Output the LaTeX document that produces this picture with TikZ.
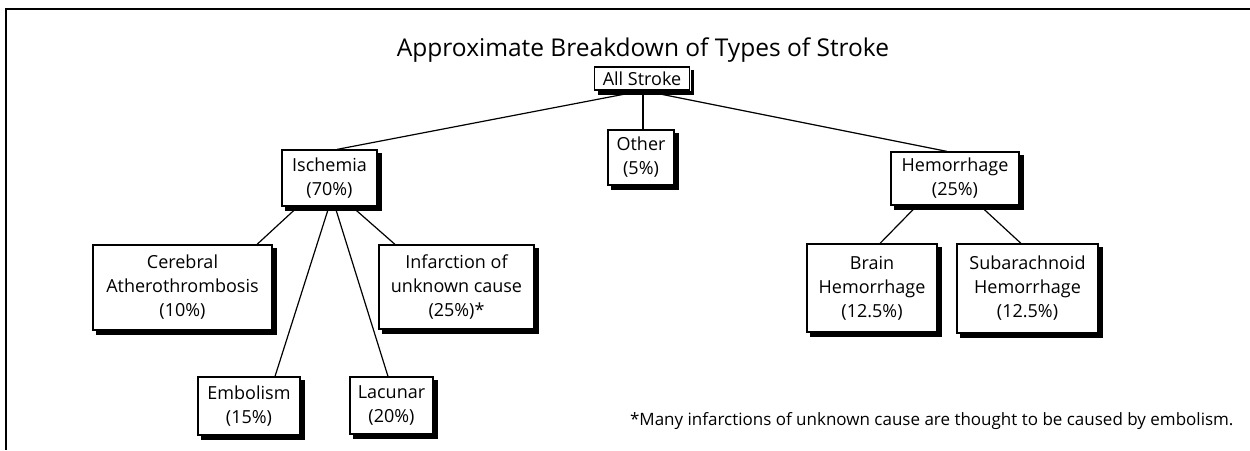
\documentclass[tikz,border=0pt]{standalone}
\usepackage{fontspec}
\setmainfont{Open Sans}
\usetikzlibrary{calc}
\begin{document}
\begin{tikzpicture}[x=1pt,y=-1pt,
  box/.style={draw=black, line width=1.2pt, fill=white, inner sep=0pt, align=center,
    font=\fontsize{18}{24}\selectfont},
  shade/.style={fill=black},
  link/.style={line width=1.2pt}]
\useasboundingbox (0,0) rectangle (1250,450);
\draw[line width=1.2pt] (1250,9) -- (6,9) -- (6,450);
\node[anchor=base, font=\fontsize{24.5}{28}\selectfont] (title) at (643,56) {Approximate Breakdown of Types of Stroke};
\node[box, minimum width=95pt, minimum height=23pt] (all) at (642,78.5) {All Stroke};
\node[box, minimum width=95pt, minimum height=56pt] (isch) at (329.5,178) {Ischemia\\(70\%)};
\node[box, minimum width=66pt, minimum height=55pt] (other) at (641,157.5) {Other\\(5\%)};
\node[box, minimum width=128pt, minimum height=53pt] (hem) at (955,178.5) {Hemorrhage\\(25\%)};
\node[box, minimum width=179pt, minimum height=85pt] (cer) at (182.5,287.5) {Cerebral\\Atherothrombosis\\(10\%)};
\node[box, minimum width=155pt, minimum height=84pt] (inf) at (456.5,287) {Infarction of\\unknown cause\\(25\%)*};
\node[box, minimum width=102pt, minimum height=58pt] (emb) at (249,406) {Embolism\\(15\%)};
\node[box, minimum width=83pt, minimum height=57pt] (lac) at (391.5,405.5) {Lacunar\\(20\%)};
\node[box, minimum width=130pt, minimum height=88pt] (brain) at (872,288) {Brain\\Hemorrhage\\(12.5\%)};
\node[box, minimum width=141pt, minimum height=89pt] (sub) at (1027.5,288.5) {Subarachnoid\\Hemorrhage\\(12.5\%)};
\foreach \n in {all,isch,other,hem,cer,inf,emb,lac,brain,sub}{
  \fill[shade] ($(\n.north east)+(0.5,4)$) rectangle ($(\n.south east)+(4,4)$);
  \fill[shade] ($(\n.south west)+(4,0.5)$) rectangle ($(\n.south east)+(4,4)$);
}
\node[anchor=base east, font=\fontsize{17}{20}\selectfont] (note) at (1237,425) {*Many infarctions of unknown cause are thought to be caused by embolism.};
\draw[link] ([xshift=1pt]all.south) -- ([xshift=7.5pt]isch.north);
\draw[link] ([xshift=1pt]all.south) -- ([xshift=2pt]other.north);
\draw[link] ([xshift=1pt]all.south) -- ([xshift=-8pt]hem.north);
\draw[link] ([xshift=-31.5pt]isch.south) -- ([xshift=74.5pt]cer.north);
\draw[link] ([xshift=-0.5pt]isch.south) -- ([xshift=26pt]emb.north);
\draw[link] ([xshift=5.5pt]isch.south) -- ([xshift=-3.5pt]lac.north);
\draw[link] ([xshift=22.5pt]isch.south) -- ([xshift=-61.5pt]inf.north);
\draw[link] ([xshift=-38pt]hem.south) -- ([xshift=8pt]brain.north);
\draw[link] ([xshift=25pt]hem.south) -- ([xshift=-6.5pt]sub.north);
\end{tikzpicture}
\end{document}
